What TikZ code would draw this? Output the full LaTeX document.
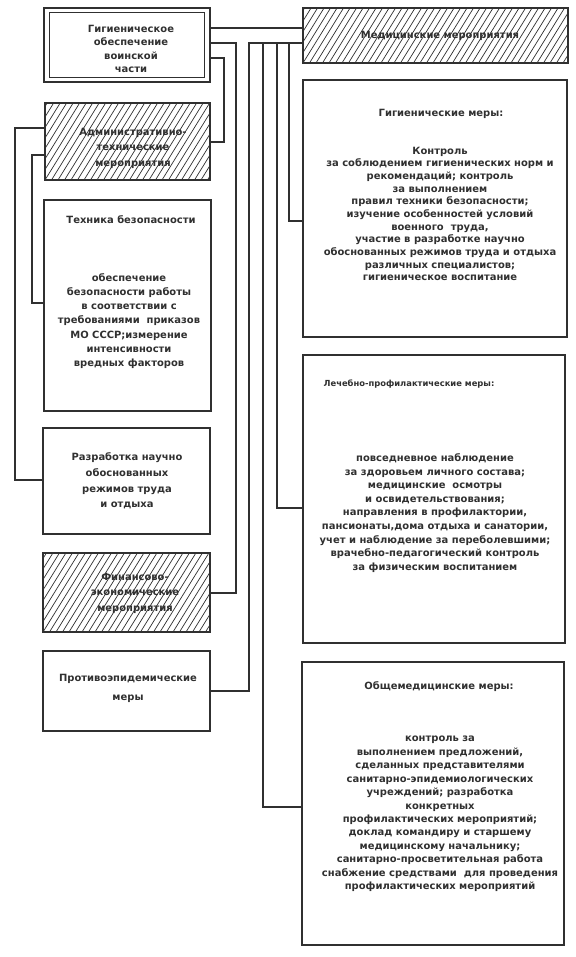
\documentclass[tikz,border=0pt]{standalone}
\usepackage{fontspec}
\setmainfont{DejaVu Sans}
\usetikzlibrary{calc}
\definecolor{ink}{HTML}{303030}
\newcommand\mylead[1]{\bfseries\fontsize{10}{#1}\selectfont}
\begin{document}
\begin{tikzpicture}[x=1bp,y=-1bp,
  box/.style={draw=ink,line width=1.2bp,inner sep=0pt},
  hatch/.style={path picture={\foreach \i in {-9,...,44}
      \draw[ink,line width=0.7bp] ($(path picture bounding box.south west)+(\i*6.5,0)$) -- ++(52,-84);}},
  conn/.style={draw=ink,line width=1.2bp,line join=miter},
  txt/.style={text=ink,align=center,inner sep=0pt}]
\useasboundingbox[fill=white] (0,0) rectangle (576,957);

% boxes
\node[box,minimum width=166bp,minimum height=74bp] (top) at (127,45) {};
\draw[box] ([shift={(6,5)}]top.north west) rectangle ([shift={(-6,-5)}]top.south east);
\node[box,hatch,minimum width=165bp,minimum height=77bp] (adm) at (127.5,141.5) {};
\node[box,minimum width=167bp,minimum height=211bp] (tech) at (127.5,305.5) {};
\node[box,minimum width=167bp,minimum height=106bp] (razr) at (126.5,481) {};
\node[box,hatch,minimum width=167bp,minimum height=79bp] (fin) at (126.5,592.5) {};
\node[box,minimum width=167bp,minimum height=80bp] (prot) at (126.5,691) {};
\node[box,hatch,minimum width=265bp,minimum height=55bp] (med) at (435.5,35.5) {};
\node[box,minimum width=264bp,minimum height=257bp] (gig) at (435,208.5) {};
\node[box,minimum width=262bp,minimum height=288bp] (lech) at (434,499) {};
\node[box,minimum width=262bp,minimum height=283bp] (obsh) at (433,803.5) {};

% texts
\node[txt,font=\mylead{13.5}] (ttop) at (131,49) {Гигиеническое\\обеспечение\\воинской\\части};
\node[txt,font=\mylead{15.5}] (tadm) at (133,148) {Административно-\\технические\\мероприятия};
\node[txt,font=\mylead{14}] (ttechh) at (131,220) {Техника безопасности};
\node[txt,font=\mylead{14.3}] (ttechb) at (129,321) {обеспечение\\безопасности работы\\в соответствии с\\требованиями\ \ приказов\\МО СССР;измерение\\интенсивности\\вредных факторов};
\node[txt,font=\mylead{15.7}] (trazr) at (127,481) {Разработка научно\\обоснованных\\режимов труда\\и отдыха};
\node[txt,font=\mylead{15.5}] (tfin) at (135,593) {Финансово-\\экономические\\мероприятия};
\node[txt,font=\mylead{19}] (tprot) at (128,688) {Противоэпидемические\\меры};
\node[txt,font=\mylead{13}] (tmed) at (440,36) {Медицинские мероприятия};
\node[txt,font=\mylead{13}] (tgigh) at (441,114) {Гигиенические меры:};
\node[txt,font=\mylead{12.7}] (tgigb) at (440,214) {Контроль\\за соблюдением гигиенических норм и\\рекомендаций; контроль\\за выполнением\\правил техники безопасности;\\изучение особенностей условий\\военного\ \ труда,\\участие в разработке научно\\обоснованных режимов труда и отдыха\\различных специалистов;\\гигиеническое воспитание};
\node[txt,font=\bfseries\fontsize{8.4}{10}\selectfont] (tlechh) at (409,384) {Лечебно-профилактические меры:};
\node[txt,font=\mylead{13.6}] (tlechb) at (435,513) {повседневное наблюдение\\за здоровьем личного состава;\\медицинские\ \ осмотры\\и освидетельствования;\\направления в профилактории,\\пансионаты,дома отдыха и санатории,\\учет и наблюдение за переболевшими;\\врачебно-педагогический контроль\\за физическим воспитанием};
\node[txt,font=\mylead{13}] (tobshh) at (439,687) {Общемедицинские меры:};
\node[txt,font=\mylead{13.5}] (tobshb) at (440,814) {контроль за\\выполнением предложений,\\сделанных представителями\\санитарно-эпидемиологических\\учреждений; разработка\\конкретных\\профилактических мероприятий;\\доклад командиру и старшему\\медицинскому начальнику;\\санитарно-просветительная работа\\снабжение средствами\ \ для проведения\\профилактических мероприятий};

% connectors
\coordinate (m) at (257,28);
\draw[conn] (top.east |- m) -- (med.west |- m);
\coordinate (a1) at (224,58); \coordinate (a2) at (224,142);
\draw[conn] (top.east |- a1) -- (a1) -- (a2) -- (adm.east |- a2);
\coordinate (f1) at (236,43); \coordinate (f2) at (236,593);
\draw[conn] (top.east |- f1) -- (f1) -- (f2) -- (fin.east |- f2);
\coordinate (b0) at (249,43);
\draw[conn] (med.west |- b0) -- (b0) -- (b0 |- prot.east) -- (prot.east);
\coordinate (b1) at (263,43); \coordinate (b1e) at (263,807);
\draw[conn] (b1) -- (b1e) -- (obsh.west |- b1e);
\coordinate (b2) at (277,43); \coordinate (b2e) at (277,508);
\draw[conn] (b2) -- (b2e) -- (lech.west |- b2e);
\coordinate (b3) at (289,43); \coordinate (b3e) at (289,221);
\draw[conn] (b3) -- (b3e) -- (gig.west |- b3e);
\coordinate (t1) at (32,155); \coordinate (t2) at (32,303);
\draw[conn] (adm.west |- t1) -- (t1) -- (t2) -- (tech.west |- t2);
\coordinate (r1) at (15,128); \coordinate (r2) at (15,480);
\draw[conn] (adm.west |- r1) -- (r1) -- (r2) -- (razr.west |- r2);
\end{tikzpicture}
\end{document}
